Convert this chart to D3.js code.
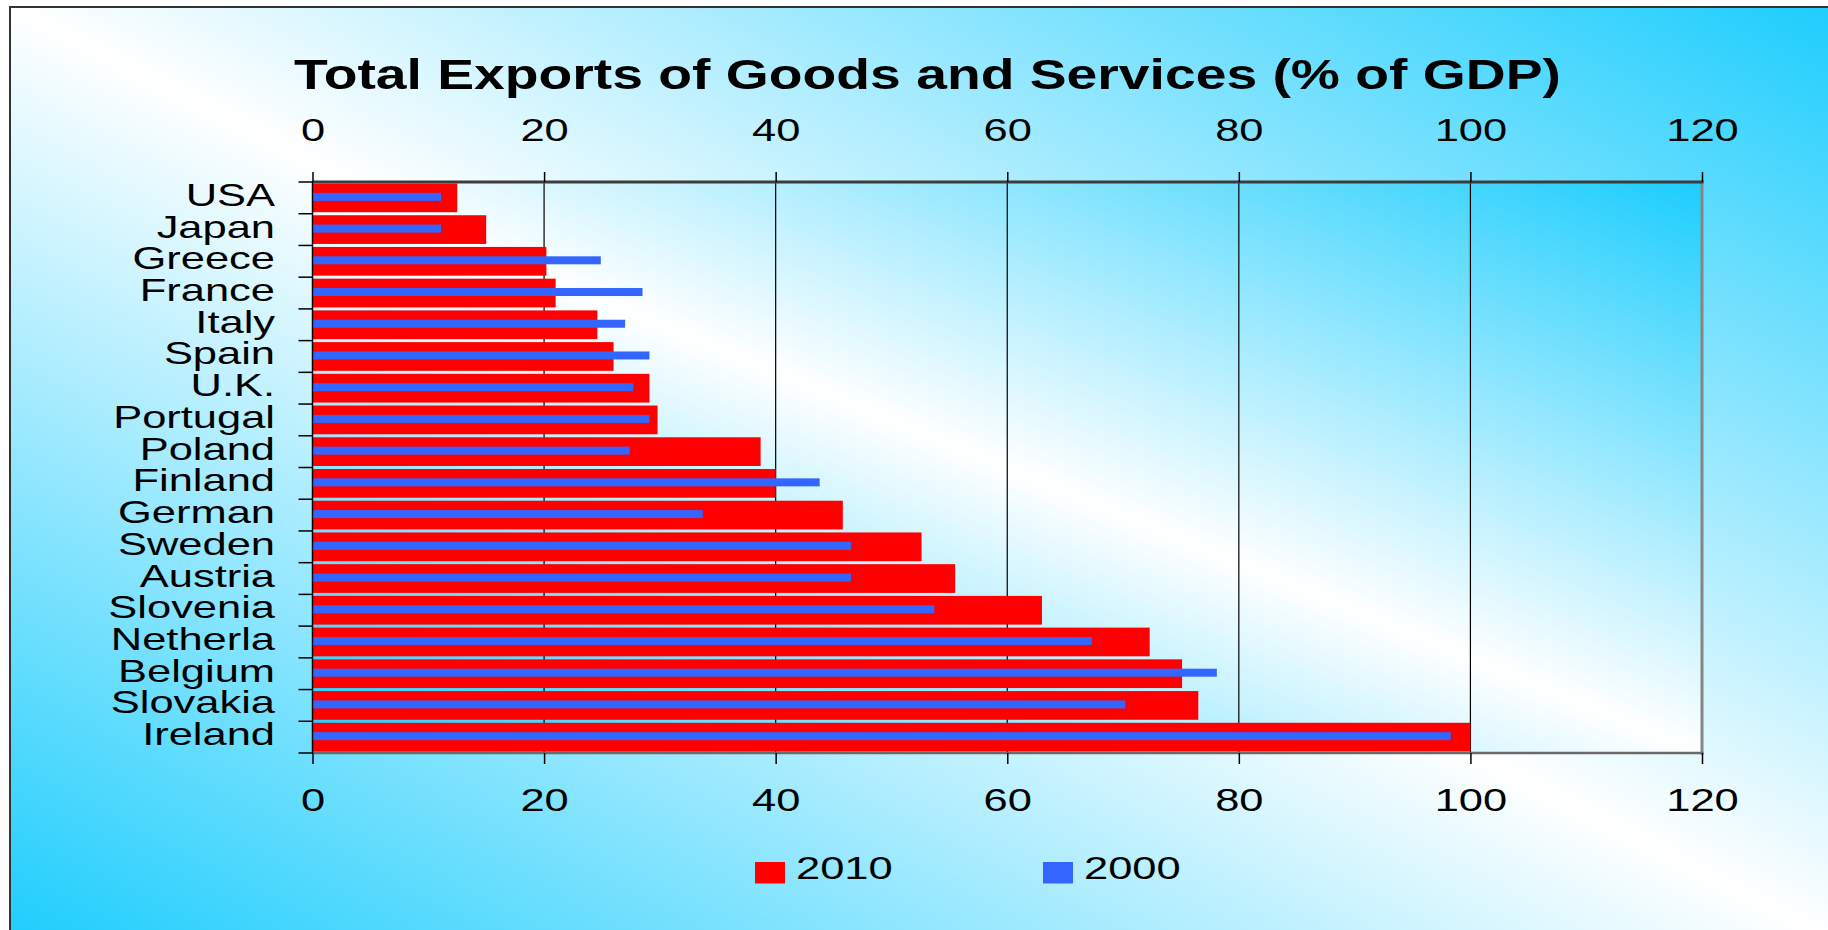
<!DOCTYPE html>
<html>
<head>
<meta charset="utf-8">
<script src="https://cdn.jsdelivr.net/npm/d3@7"></script>
<style>
  html, body { margin: 0; padding: 0; background: #fff; overflow: hidden; }
  text { font-family: "Liberation Sans", Arial, sans-serif; fill: #000; }
</style>
</head>
<body>
<div id="chart"></div>
<script>
// Chart data
const categories = ["USA", "Japan", "Greece", "France", "Italy", "Spain", "U.K.", "Portugal", "Poland",
  "Finland", "German", "Sweden", "Austria", "Slovenia", "Netherla", "Belgium", "Slovakia", "Ireland"];
const exports2010 = [12.5, 15.0, 20.2, 21.0, 24.6, 26.0, 29.1, 29.8, 38.7,
  40.0, 45.8, 52.6, 55.5, 63.0, 72.3, 75.1, 76.5, 100.0];
const exports2000 = [11.1, 11.1, 24.9, 28.5, 27.0, 29.1, 27.7, 29.1, 27.4,
  43.8, 33.7, 46.5, 46.5, 53.7, 67.3, 78.1, 70.2, 98.3];
const xTicks = [0, 20, 40, 60, 80, 100, 120];
const seriesNames = ["2010", "2000"];
const seriesColors = ["#ff0000", "#3366ff"];
const title = "Total Exports of Goods and Services (% of GDP)";

const width = 1828, height = 930;
const plot = { left: 312.5, right: 1702, top: 182, bottom: 753 };
const stretch = 1.38; // the original text is drawn wide
const labelSize = 31.5;

const svg = d3.select("#chart").append("svg")
    .attr("width", width)
    .attr("height", height);

// background gradient: cyan in top-right / bottom-left corners, white across the middle
const defs = svg.append("defs");
const grad = defs.append("linearGradient")
    .attr("id", "bg")
    .attr("x1", 0).attr("y1", 1).attr("x2", 1).attr("y2", 0);
grad.append("stop").attr("offset", 0).attr("stop-color", "#1ccdfd");
grad.append("stop").attr("offset", 0.5).attr("stop-color", "#ffffff");
grad.append("stop").attr("offset", 1).attr("stop-color", "#1ccdfd");

svg.append("rect")
    .attr("x", 10).attr("y", 7)
    .attr("width", width + 10).attr("height", height + 10)
    .attr("fill", "url(#bg)")
    .attr("stroke", "#333")
    .attr("stroke-width", 2);

// title
svg.append("text")
    .attr("x", 294).attr("y", 89)
    .attr("font-size", 42)
    .attr("font-weight", "bold")
    .attr("textLength", 1267)
    .attr("lengthAdjust", "spacingAndGlyphs")
    .text(title);

// scales
const x = d3.scaleLinear().domain([0, 120]).range([plot.left, plot.right]);
const y = d3.scaleBand().domain(categories).range([plot.top, plot.bottom]).padding(0);
const bw = y.bandwidth();

// plot area background
svg.append("rect")
    .attr("x", plot.left).attr("y", plot.top)
    .attr("width", plot.right - plot.left).attr("height", plot.bottom - plot.top)
    .attr("fill", "url(#bg)");

// vertical gridlines
svg.append("g")
    .selectAll("line")
    .data(xTicks.filter(v => v > 0 && v < 120))
    .join("line")
    .attr("x1", d => x(d)).attr("x2", d => x(d))
    .attr("y1", plot.top).attr("y2", plot.bottom)
    .attr("stroke", "#000")
    .attr("stroke-width", 1.2);

// bars: 2010 wide, 2000 narrow on top
const rows = categories.map((c, i) => ({ c, v2010: exports2010[i], v2000: exports2000[i] }));

svg.append("g")
    .selectAll("rect")
    .data(rows)
    .join("rect")
    .attr("x", x(0))
    .attr("y", d => y(d.c) + 1.5)
    .attr("width", d => x(d.v2010) - x(0))
    .attr("height", bw - 3)
    .attr("fill", seriesColors[0]);

svg.append("g")
    .selectAll("rect")
    .data(rows)
    .join("rect")
    .attr("x", x(0))
    .attr("y", d => y(d.c) + bw / 2 - 5)
    .attr("width", d => x(d.v2000) - x(0))
    .attr("height", 8)
    .attr("fill", seriesColors[1]);

// plot border
svg.append("line")
    .attr("x1", plot.right).attr("x2", plot.right)
    .attr("y1", plot.top).attr("y2", plot.bottom + 1.5)
    .attr("stroke", "#858585").attr("stroke-width", 3);
svg.append("line")
    .attr("x1", plot.left).attr("x2", plot.right + 1.5)
    .attr("y1", plot.bottom).attr("y2", plot.bottom)
    .attr("stroke", "#6a6a6a").attr("stroke-width", 2.5);
svg.append("line")
    .attr("x1", plot.left).attr("x2", plot.right + 1.5)
    .attr("y1", plot.top).attr("y2", plot.top)
    .attr("stroke", "#3c3c3c").attr("stroke-width", 3);
svg.append("line")
    .attr("x1", plot.left).attr("x2", plot.left)
    .attr("y1", plot.top).attr("y2", plot.bottom)
    .attr("stroke", "#000").attr("stroke-width", 1.5);

// top axis
const topAxis = svg.append("g")
    .attr("transform", `translate(0,${plot.top})`)
    .call(d3.axisTop(x).tickValues(xTicks).tickSize(10).tickSizeOuter(0));
topAxis.select(".domain").remove();
topAxis.selectAll(".tick line").attr("stroke", "#000").attr("stroke-width", 1.5);
topAxis.selectAll(".tick text")
    .attr("font-size", labelSize)
    .attr("font-family", null)
    .attr("y", -41.5)
    .attr("dy", null)
    .attr("transform", `scale(${stretch},1)`);

// bottom axis
const bottomAxis = svg.append("g")
    .attr("transform", `translate(0,${plot.bottom})`)
    .call(d3.axisBottom(x).tickValues(xTicks).tickSize(11).tickSizeOuter(0));
bottomAxis.select(".domain").remove();
bottomAxis.selectAll(".tick line").attr("stroke", "#000").attr("stroke-width", 1.5);
bottomAxis.selectAll(".tick text")
    .attr("font-size", labelSize)
    .attr("font-family", null)
    .attr("y", 58)
    .attr("dy", null)
    .attr("transform", `scale(${stretch},1)`);

// left ticks at band boundaries
const bounds = categories.map(c => y(c)).concat([plot.bottom]);
svg.append("g")
    .selectAll("line")
    .data(bounds)
    .join("line")
    .attr("x1", plot.left - 14).attr("x2", plot.left)
    .attr("y1", d => d).attr("y2", d => d)
    .attr("stroke", "#000")
    .attr("stroke-width", 1.5);

// category labels
const leftAxis = svg.append("g")
    .attr("transform", `translate(${plot.left},0)`)
    .call(d3.axisLeft(y).tickSize(0).tickSizeOuter(0));
leftAxis.select(".domain").remove();
leftAxis.selectAll(".tick text")
    .attr("font-size", labelSize)
    .attr("font-family", null)
    .attr("x", -37.5 / stretch)
    .attr("y", 8)
    .attr("dy", null)
    .attr("transform", `scale(${stretch},1)`);

// legend
const legendX = [755, 1043];
const legend = svg.append("g")
    .selectAll("g")
    .data(seriesNames)
    .join("g")
    .attr("transform", (d, i) => `translate(${legendX[i]},862)`);
legend.append("rect")
    .attr("width", 30).attr("height", 21.5)
    .attr("fill", (d, i) => seriesColors[i]);
legend.append("text")
    .attr("transform", `translate(41,16.5) scale(${stretch},1)`)
    .attr("font-size", labelSize)
    .text(d => d);
</script>
</body>
</html>
